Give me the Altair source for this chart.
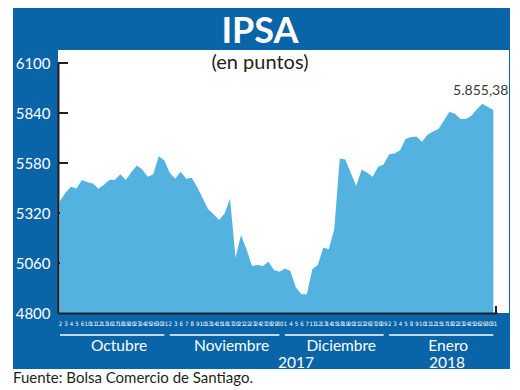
import altair as alt
import pandas as pd

# ---------------- data ----------------
months = ["Octubre", "Noviembre", "Diciembre", "Enero"]

oct_days = [2, 3, 4, 5, 6, 10, 11, 12, 13, 16, 17, 18, 19, 20, 23, 24, 25, 26, 30, 31]
nov_days = [2, 3, 6, 7, 8, 9, 10, 13, 14, 15, 16, 17, 20, 21, 22, 23, 24, 27, 28, 29, 30]
dic_days = [1, 4, 5, 6, 7, 11, 12, 13, 14, 15, 18, 19, 20, 21, 22, 26, 27, 28, 29]
ene_days = [2, 3, 4, 5, 8, 9, 10, 11, 12, 15, 17, 18, 22, 23, 24, 25, 26, 29, 30, 31]

oct_vals = [5382, 5425, 5456, 5447, 5491, 5480, 5473, 5446, 5467, 5491,
            5491, 5522, 5491, 5532, 5567, 5546, 5508, 5522, 5615, 5594]
nov_vals = [5529, 5498, 5534, 5498, 5503, 5455, 5398, 5339, 5313, 5283,
            5318, 5394, 5089, 5204, 5132, 5045, 5049, 5045, 5066, 5023, 5014]
dic_vals = [5031, 5019, 4933, 4898, 4898, 5028, 5050, 5140, 5132, 5235,
            5603, 5598, 5529, 5460, 5546, 5529, 5508, 5560, 5572]
ene_vals = [5625, 5629, 5646, 5705, 5715, 5718, 5691, 5727, 5744, 5757,
            5801, 5846, 5836, 5809, 5809, 5826, 5860, 5888, 5871, 5855.38]

y_ticks = [4800, 5060, 5320, 5580, 5840, 6100]
years = ["2017", "2018"]

title_text = "IPSA"
subtitle_text = "(en puntos)"
source_text = "Fuente: Bolsa Comercio de Santiago."

rows = []
for m, days, vals in zip(months, [oct_days, nov_days, dic_days, ene_days],
                         [oct_vals, nov_vals, dic_vals, ene_vals]):
    for d, v in zip(days, vals):
        rows.append({"idx": len(rows), "day": str(d), "month": m, "value": v})
df = pd.DataFrame(rows)
n = len(df)

# ---------------- styles ----------------
BLUE = "#0A64A8"
AREA = "#54B2E0"
DARK = "#231F20"
FONT = "Lato"
NARROW = "Liberation Sans Narrow, DejaVu Sans Condensed, Lato"

W, H = 439, 250

day_expr = "[" + ",".join("'%s'" % d for d in df["day"]) + "][datum.value]"

xscale = alt.Scale(domain=[-0.365, n - 1 + 0.67], nice=False, zero=False)
yscale = alt.Scale(domain=[4800, 6100], nice=False, zero=False)

one = pd.DataFrame({"a": [0]})

frame = alt.Chart(one).mark_rect(color=BLUE).encode(
    x=alt.value(-45), x2=alt.value(452), y=alt.value(-55), y2=alt.value(306)
)
inner = alt.Chart(one).mark_rect(color="white").encode(
    x=alt.value(0), x2=alt.value(451), y=alt.value(-13), y2=alt.value(250)
)

ticks_in = alt.Chart(pd.DataFrame({"t": y_ticks[1:]})).mark_rule(
    color=DARK, strokeWidth=2
).encode(
    y=alt.Y("t:Q", scale=yscale, title=None),
    x=alt.value(0), x2=alt.value(10),
)

area = alt.Chart(df).mark_area(color=AREA, opacity=1).encode(
    x=alt.X("idx:Q", scale=xscale, title=None,
            axis=alt.Axis(values=list(range(n)), tickCount=200,
                          labelExpr=day_expr,
                          labelColor="white", labelFontSize=6, labelFont=NARROW,
                          labelAngle=0, labelOverlap=False, labelFlush=False,
                          labelPadding=7, tickSize=0, domainColor=DARK,
                          domainWidth=2, grid=False, zindex=2)),
    y=alt.Y("value:Q", scale=yscale, title=None,
            axis=alt.Axis(values=y_ticks, format="d", labelColor="white",
                          labelFontSize=15, labelFont=FONT, labelPadding=8,
                          tickSize=0, domainColor=DARK, domainWidth=2,
                          grid=False, zindex=2)),
    y2=alt.datum(4800),
)

end_tick = alt.Chart(one).mark_rule(color=DARK, strokeWidth=2).encode(
    x=alt.value(438), y=alt.value(243), y2=alt.value(251)
)

value_label = alt.Chart(df).transform_joinaggregate(
    mx="max(idx)"
).transform_filter("datum.idx == datum.mx").transform_calculate(
    lbl="replace(replace(replace(format(datum.value, ',.2f'), ',', '_'), '.', ','), '_', '.')"
).mark_text(align="right", baseline="alphabetic", dx=15, dy=-15,
            fontSize=14, font=FONT, color="#3a3a3a").encode(
    x=alt.X("idx:Q", scale=xscale, title=None),
    y=alt.Y("value:Q", scale=yscale, title=None),
    text="lbl:N",
)

month_base = alt.Chart(df).transform_aggregate(
    c="mean(idx)", lo="min(idx)", hi="max(idx)", groupby=["month"]
)
month_rules = month_base.mark_rule(color="white", strokeWidth=1.5).encode(
    x=alt.X("lo:Q", scale=xscale, title=None),
    x2="hi:Q",
    y=alt.value(272),
)
month_text = month_base.mark_text(
    color="white", fontSize=15.5, font=FONT, baseline="alphabetic", dx=7
).encode(
    x=alt.X("c:Q", scale=xscale, title=None),
    y=alt.value(288),
    text="month:N",
)

year17 = alt.Chart(one).mark_text(color="white", fontSize=15.5, font=FONT,
                                  baseline="alphabetic").encode(
    x=alt.value(238), y=alt.value(305), text=alt.value(years[0]))
year18 = alt.Chart(one).mark_text(color="white", fontSize=15.5, font=FONT,
                                  baseline="alphabetic").encode(
    x=alt.value(389), y=alt.value(305), text=alt.value(years[1]))

title = alt.Chart(one).mark_text(color="white", fontSize=36, font=FONT,
                                 fontWeight="bold", baseline="alphabetic").encode(
    x=alt.value(202), y=alt.value(-20), text=alt.value(title_text))
subtitle = alt.Chart(one).mark_text(color=DARK, fontSize=20, font=FONT,
                                    baseline="alphabetic").encode(
    x=alt.value(202), y=alt.value(6), text=alt.value(subtitle_text))
source = alt.Chart(one).mark_text(color=DARK, fontSize=15, font=FONT,
                                  align="left", baseline="alphabetic").encode(
    x=alt.value(-45), y=alt.value(320), text=alt.value(source_text))

chart = alt.layer(
    frame, inner, ticks_in, area, end_tick, value_label,
    month_rules, month_text, year17, year18, title, subtitle, source
).properties(
    width=W, height=H,
    autosize=alt.AutoSizeParams(type="none"),
    padding={"left": 50, "top": 55, "right": 14, "bottom": 77},
    background="white",
).configure_view(strokeWidth=0).configure_axis(labelOverlap=False)

chart.save("out.html", embed_options={"renderer": "svg", "actions": False})
